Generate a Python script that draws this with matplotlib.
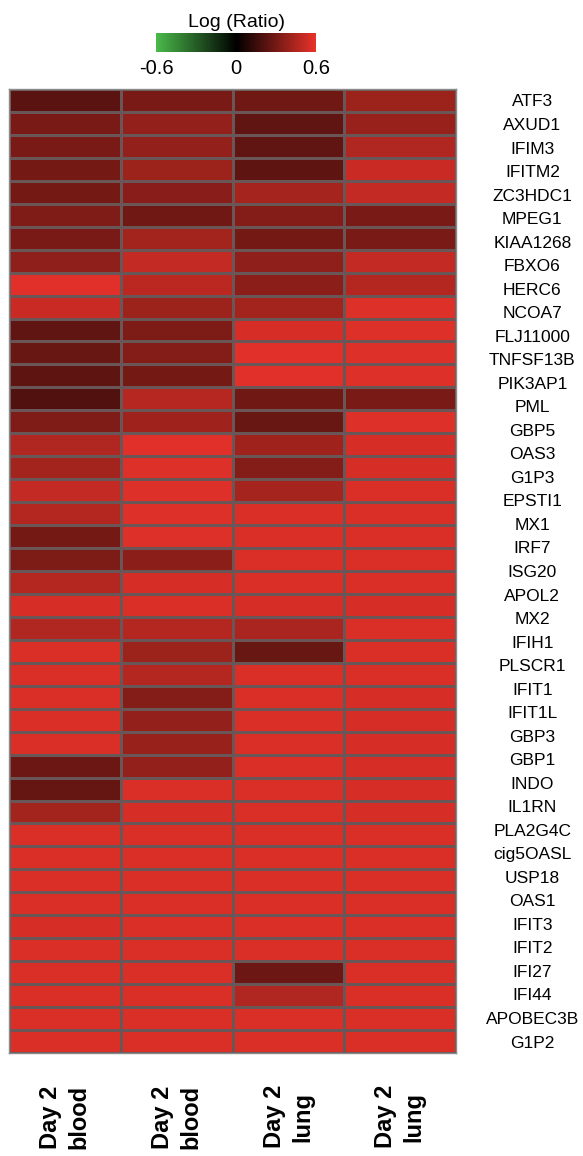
#!/usr/bin/env python3
import numpy as np
import matplotlib

matplotlib.use("Agg")
import matplotlib.pyplot as plt
from matplotlib.colors import LinearSegmentedColormap, Normalize

OUT_PATH = "out.png"

SAMPLE_LABELS = ["Day 2\nblood", "Day 2\nblood", "Day 2\nlung", "Day 2\nlung"]

GENES = [
    "ATF3", "AXUD1", "IFIM3", "IFITM2", "ZC3HDC1", "MPEG1", "KIAA1268", "FBXO6",
    "HERC6", "NCOA7", "FLJ11000", "TNFSF13B", "PIK3AP1", "PML", "GBP5", "OAS3",
    "G1P3", "EPSTI1", "MX1", "IRF7", "ISG20", "APOL2", "MX2", "IFIH1", "PLSCR1",
    "IFIT1", "IFIT1L", "GBP3", "GBP1", "INDO", "IL1RN", "PLA2G4C", "cig5OASL",
    "USP18", "OAS1", "IFIT3", "IFIT2", "IFI27", "IFI44", "APOBEC3B", "G1P2",
]

# log ratio per cell, one list per column (42 rows drawn in the heatmap)
BLOOD_A = [
    0.23, 0.31, 0.31, 0.30, 0.30, 0.33, 0.31, 0.37, 0.58, 0.52,
    0.25, 0.27, 0.24, 0.21, 0.33, 0.45, 0.42, 0.50, 0.46, 0.30,
    0.32, 0.46, 0.55, 0.45, 0.56, 0.56, 0.56, 0.56, 0.56, 0.28,
    0.26, 0.42, 0.56, 0.56, 0.56, 0.56, 0.55, 0.56, 0.56, 0.56,
    0.56, 0.56,
]
BLOOD_B = [
    0.31, 0.38, 0.38, 0.40, 0.35, 0.29, 0.42, 0.50, 0.48, 0.40,
    0.32, 0.34, 0.30, 0.47, 0.41, 0.58, 0.57, 0.57, 0.57, 0.57,
    0.36, 0.55, 0.56, 0.46, 0.40, 0.46, 0.34, 0.38, 0.39, 0.38,
    0.56, 0.55, 0.56, 0.56, 0.56, 0.56, 0.56, 0.56, 0.56, 0.56,
    0.56, 0.56,
]
LUNG_A = [
    0.29, 0.25, 0.25, 0.24, 0.43, 0.34, 0.30, 0.37, 0.36, 0.42,
    0.55, 0.58, 0.58, 0.29, 0.27, 0.41, 0.34, 0.43, 0.56, 0.56,
    0.56, 0.56, 0.55, 0.44, 0.27, 0.56, 0.56, 0.56, 0.56, 0.56,
    0.56, 0.56, 0.56, 0.56, 0.56, 0.56, 0.56, 0.56, 0.28, 0.45,
    0.56, 0.56,
]
LUNG_B = [
    0.40, 0.39, 0.45, 0.52, 0.50, 0.31, 0.31, 0.50, 0.46, 0.57,
    0.57, 0.57, 0.57, 0.31, 0.57, 0.55, 0.55, 0.56, 0.56, 0.56,
    0.56, 0.56, 0.55, 0.56, 0.56, 0.56, 0.55, 0.55, 0.55, 0.55,
    0.55, 0.55, 0.56, 0.56, 0.56, 0.56, 0.56, 0.56, 0.56, 0.56,
    0.56, 0.56,
]

COLORS = {
    "low": "#4ab94a",
    "mid": "#000000",
    "high": "#e8322a",
    "cell_edge": "#6a5656",
    "frame": "#8a8a8a",
}


def main() -> None:
    plt.rcParams["font.family"] = ["Liberation Sans", "DejaVu Sans"]

    values = np.column_stack([BLOOD_A, BLOOD_B, LUNG_A, LUNG_B])
    n_rows, n_cols = values.shape

    cmap = LinearSegmentedColormap.from_list(
        "green_black_red", [COLORS["low"], COLORS["mid"], COLORS["high"]]
    )
    norm = Normalize(vmin=-0.6, vmax=0.6)

    fig = plt.figure(figsize=(5.83, 11.56), dpi=100)
    ax = fig.add_axes([9 / 583, 1 - 1053 / 1156, 447 / 583, 964 / 1156])

    mesh = ax.pcolormesh(
        values,
        cmap=cmap,
        norm=norm,
        edgecolors=COLORS["cell_edge"],
        linewidth=0.8,
    )
    ax.set_xlim(0, n_cols)
    ax.set_ylim(n_rows, 0)

    for spine in ax.spines.values():
        spine.set_color(COLORS["frame"])
        spine.set_linewidth(1.0)

    # sample labels under the columns
    ax.set_xticks(np.arange(n_cols) + 0.5)
    ax.set_xticklabels(SAMPLE_LABELS, rotation=90, fontsize=17, fontweight="bold",
                       ha="center", va="top", multialignment="center", linespacing=1.3)
    ax.tick_params(axis="x", length=0, pad=23)

    # gene names on the right, spread evenly over the rows
    gene_pos = np.linspace(0.5, n_rows - 0.5, len(GENES))
    ax.yaxis.tick_right()
    ax.set_yticks(gene_pos)
    ax.set_yticklabels(GENES, fontsize=12.5)
    ax.tick_params(axis="y", length=0, pad=55)
    for lbl in ax.get_yticklabels():
        lbl.set_horizontalalignment("center")

    # colour key
    cax = fig.add_axes([156 / 583, 1 - 52 / 1156, 160 / 583, 19 / 1156])
    cbar = fig.colorbar(mesh, cax=cax, orientation="horizontal", ticks=[-0.6, 0, 0.6])
    cbar.outline.set_visible(False)
    cbar.set_ticklabels(["-0.6", "0", "0.6"])
    cax.tick_params(length=0, pad=5, labelsize=14.5)
    cax.set_title("Log (Ratio)", fontsize=14, pad=4)

    fig.savefig(OUT_PATH, dpi=100)
    plt.close(fig)


if __name__ == "__main__":
    main()
